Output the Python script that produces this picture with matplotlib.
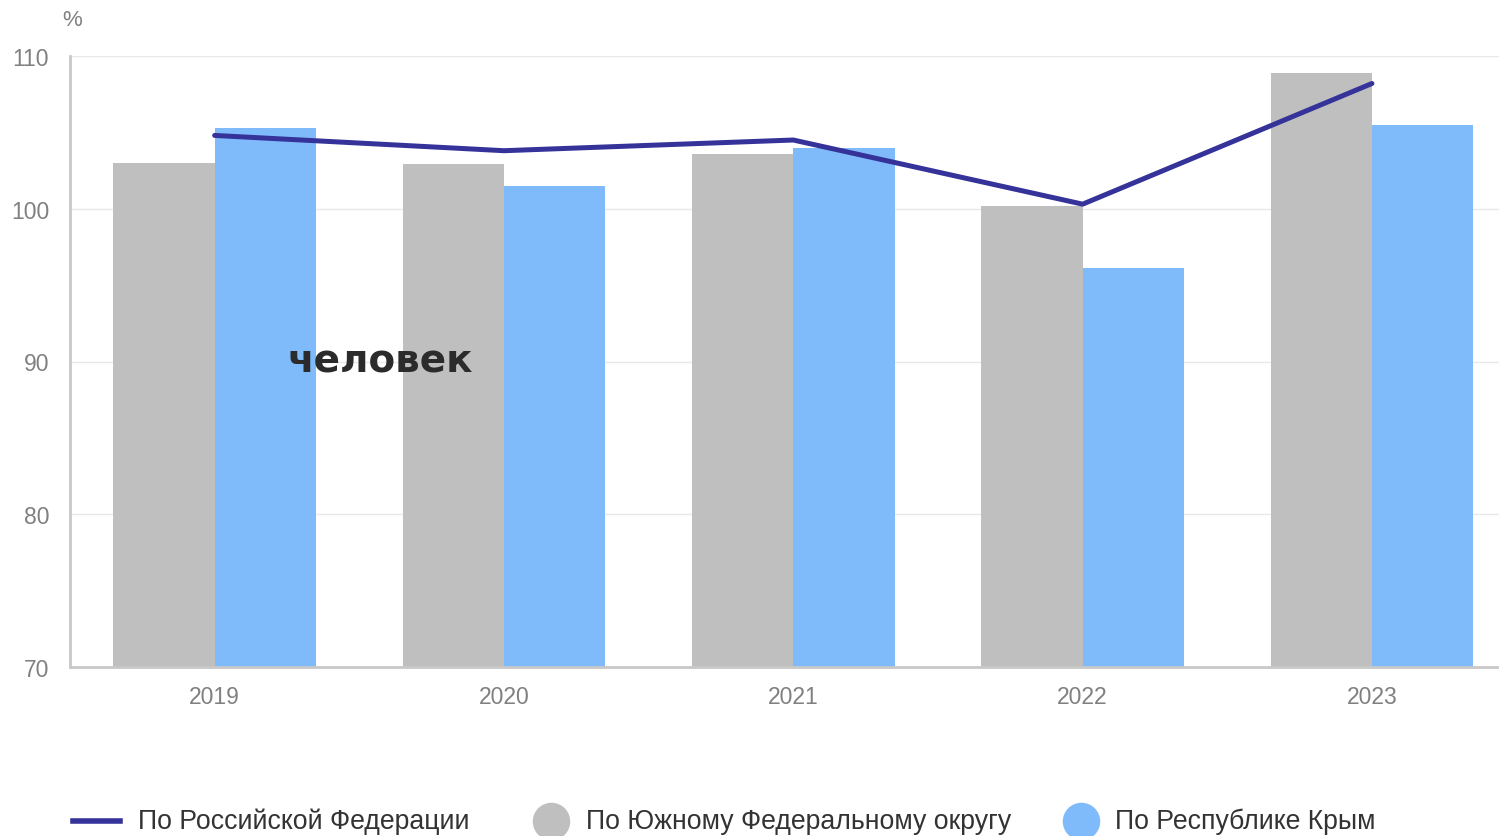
import matplotlib.pyplot as plt
from matplotlib.lines import Line2D
import numpy as np

years = ["2019", "2020", "2021", "2022", "2023"]
rf = [104.8, 103.8, 104.5, 100.3, 108.2]
ufo = [103.0, 102.9, 103.6, 100.2, 108.9]
crimea = [105.3, 101.5, 104.0, 96.1, 105.5]
labels = ["По Российской Федерации", "По Южному Федеральному округу", "По Республике Крым"]

c_line = "#35339a"
c_grey = "#bfbfbf"
c_blue = "#7fbbfb"

W, H = 1499, 837
fig = plt.figure(figsize=(W / 100, H / 100), dpi=100)
plt.rcParams["font.family"] = ["Liberation Sans", "DejaVu Sans"]

# axes run a bit past the right edge, as in the original
left, right, top, bottom = 70, 1516.6, 57, 668
ax = fig.add_axes([left / W, 1 - bottom / H, (right - left) / W, (bottom - top) / H])

x = np.arange(len(years))
w = 0.35
ax.bar(x - w / 2, ufo, width=w, color=c_grey, zorder=2)
ax.bar(x + w / 2, crimea, width=w, color=c_blue, zorder=2)
ax.plot(x, rf, color=c_line, lw=3.6, solid_capstyle="round", zorder=3)

ax.set_xlim(-0.5, len(years) - 0.5)
ax.set_ylim(70, 110)
ax.set_yticks([70, 80, 90, 100, 110])
ax.set_xticks(x)
ax.set_xticklabels(years)
ax.tick_params(axis="both", length=0, labelsize=16.5, labelcolor="#808080")
ax.tick_params(axis="x", pad=13)
ax.tick_params(axis="y", pad=15)
ax.yaxis.grid(True, color="#e8e8e8", lw=1, zorder=0)
for s in ["top", "right"]:
    ax.spines[s].set_visible(False)
for s in ["left", "bottom"]:
    ax.spines[s].set_color("#c8c8c8")
    ax.spines[s].set_linewidth(2)

fig.text(62 / W, 1 - 21 / H, "%", fontsize=16, color="#808080", va="center")
fig.text(380 / W, 1 - 362 / H, "человек", fontsize=28, fontweight="bold",
         family="DejaVu Sans", color="#2b2b2b", ha="center", va="center", zorder=5)

# legend
ly = 1 - 822 / H
fig.add_artist(Line2D([73 / W, 120 / W], [ly, ly], color=c_line, lw=4,
                      transform=fig.transFigure))
fig.text(138 / W, ly, labels[0], fontsize=19.2, color="#333333", va="center")
fig.add_artist(Line2D([551 / W], [ly], marker="o", ms=27, color=c_grey, mec="none",
                      transform=fig.transFigure))
fig.text(586 / W, ly, labels[1], fontsize=19.2, color="#333333", va="center")
fig.add_artist(Line2D([1081 / W], [ly], marker="o", ms=27, color=c_blue, mec="none",
                      transform=fig.transFigure))
fig.text(1115 / W, ly, labels[2], fontsize=19.2, color="#333333", va="center")

fig.savefig("out.png", dpi=100)
